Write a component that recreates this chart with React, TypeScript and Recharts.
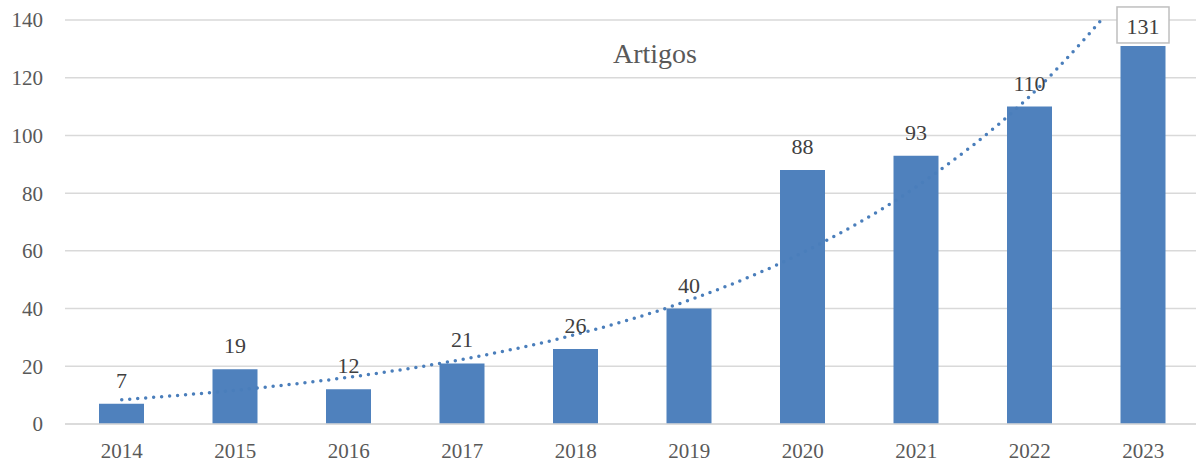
import { ComposedChart, Bar, Line, XAxis, YAxis, CartesianGrid, LabelList } from "recharts";

const years = ["2014", "2015", "2016", "2017", "2018", "2019", "2020", "2021", "2022", "2023"];
const artigos = [7, 19, 12, 21, 26, 40, 88, 93, 110, 131];
// exponential trendline
const trend = [8.4, 11.7, 16.2, 22.4, 31.0, 42.9, 59.4, 82.2, 113.6, 157];
const yTicks = [0, 20, 40, 60, 80, 100, 120, 140];

const data = years.map((year, i) => ({ year, artigos: artigos[i], trend: trend[i] }));

const FONT = "'Liberation Serif', 'Times New Roman', serif";
const BAR = "#4F81BD";
const GRID = "#D9D9D9";

function ValueLabel(props: any) {
  const { x, y, width, value, index } = props;
  const cx = x + width / 2;
  if (index === artigos.length - 1) {
    return (
      <g>
        <rect x={cx - 26} y={y - 39} width={52} height={36} fill="#fff" stroke="#BFBFBF" strokeWidth={1.5} />
        <text x={cx} y={y - 12} textAnchor="middle" fill="#404040" fontSize={22} fontFamily={FONT}>
          {value}
        </text>
      </g>
    );
  }
  return (
    <text x={cx} y={y - 16} textAnchor="middle" fill="#404040" fontSize={22} fontFamily={FONT}>
      {value}
    </text>
  );
}

export default function App() {
  return (
    <div style={{ position: "absolute", left: 0, top: 0, width: 1196, height: 462, overflow: "hidden", background: "#fff" }}>
      <ComposedChart width={1200} height={462} data={data} margin={{ top: 20, right: 0, bottom: 0, left: 0 }}>
        <CartesianGrid vertical={false} stroke={GRID} strokeWidth={1.5} />
        <XAxis
          dataKey="year"
          height={38}
          tickLine={false}
          axisLine={{ stroke: GRID, strokeWidth: 1.5 }}
          tickMargin={13}
          tick={{ fill: "#595959", fontSize: 21, fontFamily: FONT }}
        />
        <YAxis
          width={65}
          domain={[0, 140]}
          ticks={yTicks}
          axisLine={false}
          tickLine={false}
          tickMargin={16}
          tick={{ fill: "#595959", fontSize: 21, fontFamily: FONT }}
        />
        <YAxis yAxisId="trend" hide domain={[0, 140]} allowDataOverflow />
        <Bar dataKey="artigos" fill={BAR} barSize={45} isAnimationActive={false}>
          <LabelList dataKey="artigos" content={ValueLabel} />
        </Bar>
        <Line
          yAxisId="trend"
          type="monotone"
          dataKey="trend"
          stroke="#4A7EBB"
          strokeWidth={3.5}
          strokeDasharray="0 8"
          strokeLinecap="round"
          dot={false}
          activeDot={false}
          isAnimationActive={false}
        />
      </ComposedChart>
      <div
        style={{
          position: "absolute",
          left: 555,
          top: 38,
          width: 200,
          textAlign: "center",
          fontFamily: FONT,
          fontSize: 28,
          color: "#595959",
          lineHeight: "32px",
        }}
      >
        Artigos
      </div>
    </div>
  );
}
